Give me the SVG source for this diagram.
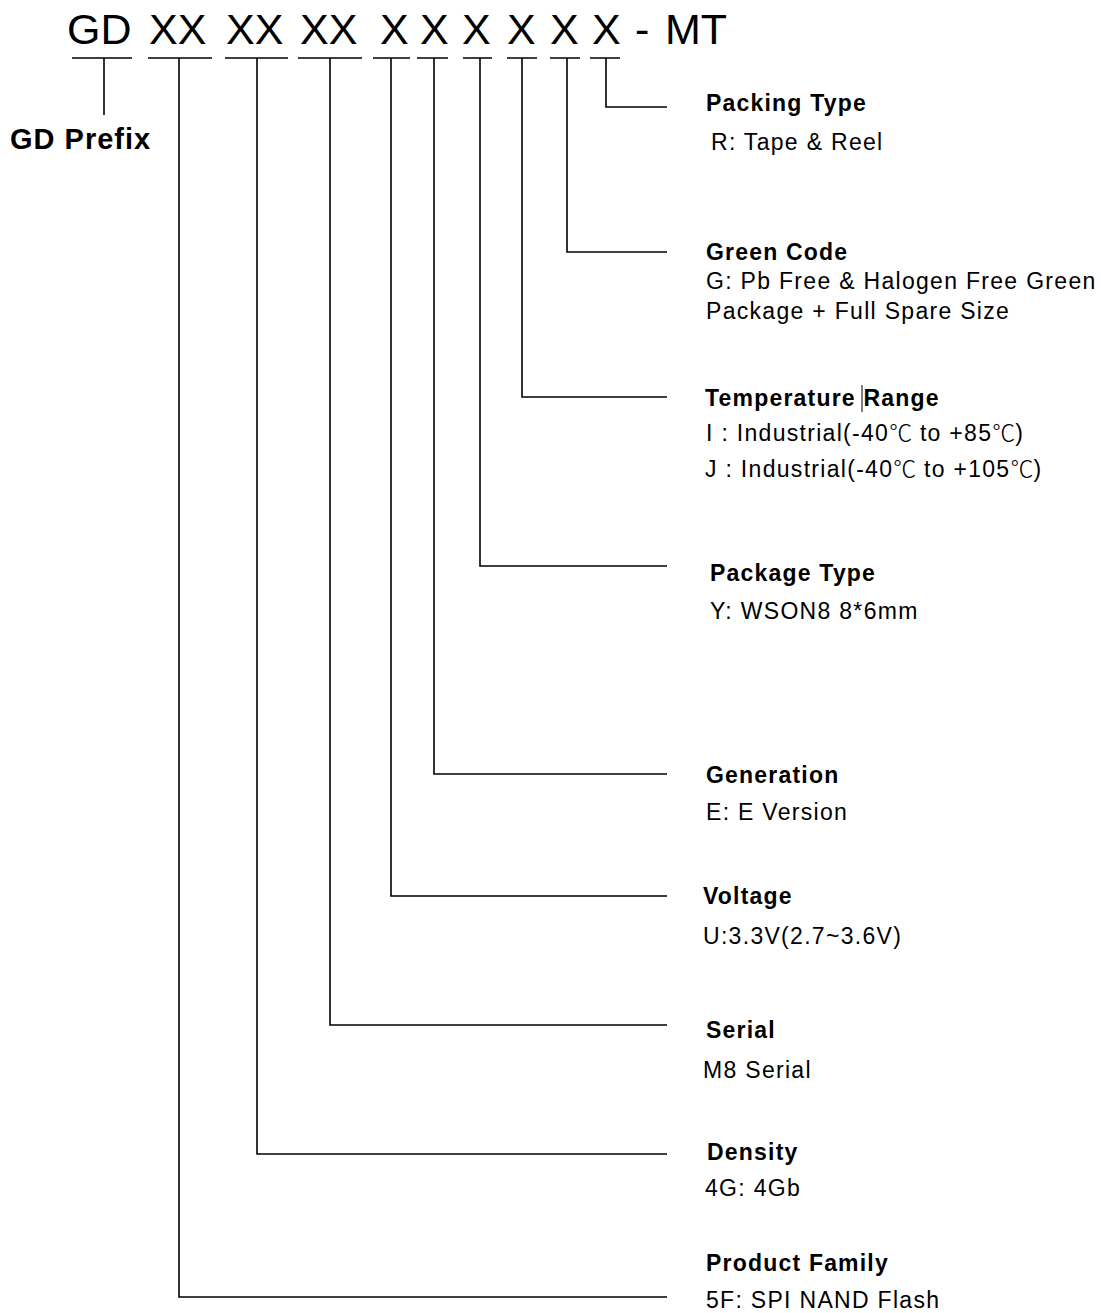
<svg xmlns="http://www.w3.org/2000/svg" width="1101" height="1313" viewBox="0 0 1101 1313">
<style>
.t{font-family:"Liberation Sans",Arial,sans-serif;fill:#000}
.title{font-size:43px}
.h{font-size:23px;font-weight:bold;letter-spacing:1.2px}
.d{font-size:23px;letter-spacing:1.3px}
.pre{font-size:29px;font-weight:bold;letter-spacing:1px}
.c{font-family:"Noto Sans CJK SC","DejaVu Sans",sans-serif;font-weight:300;letter-spacing:0}
.ln{stroke:#000;stroke-width:1.6;fill:none}
</style>
<rect width="1101" height="1313" fill="#fff"/>
<g id="part-number">
<text class="t title" y="44"><tspan x="67">GD</tspan><tspan x="149">XX</tspan><tspan x="226">XX</tspan><tspan x="300">XX</tspan><tspan x="380">X</tspan><tspan x="420">X</tspan><tspan x="462">X</tspan><tspan x="507">X</tspan><tspan x="550">X</tspan><tspan x="592">X</tspan><tspan x="635">-</tspan><tspan x="665">MT</tspan></text>
<path class="ln" d="M72 58H132M148 58H212M225 58H288M298 58H362M373 58H410M417 58H448M463 58H492M507 58H537M550 58H580M590 58H620"/>
</g>
<g id="connectors">
<path class="ln" d="M104 58V115"/>
<path class="ln" d="M606 58V107H667"/>
<path class="ln" d="M567 58V252H667"/>
<path class="ln" d="M522 58V397H667"/>
<path class="ln" d="M480 58V566H667"/>
<path class="ln" d="M434 58V774H667"/>
<path class="ln" d="M391 58V896H667"/>
<path class="ln" d="M330 58V1025H667"/>
<path class="ln" d="M257 58V1154H667"/>
<path class="ln" d="M179 58V1297H667"/>
</g>
<g id="gd-prefix">
<text class="t pre" x="10" y="149">GD Prefix</text>
</g>
<g id="packing-type">
<text class="t h" x="706" y="111">Packing Type</text>
<text class="t d" x="711" y="150">R: Tape &amp; Reel</text>
</g>
<g id="green-code">
<text class="t h" x="706" y="260">Green Code</text>
<text class="t d" x="706" y="289">G: Pb Free &amp; Halogen Free Green</text>
<text class="t d" x="706" y="319">Package + Full Spare Size</text>
</g>
<g id="temperature-range">
<text class="t h" x="705" y="406">Temperature Range</text>
<line x1="862" y1="385" x2="862" y2="412" stroke="#000" stroke-width="1"/>
<text class="t d" x="706" y="441">I : Industrial(-40<tspan class="c">℃</tspan> to +85<tspan class="c">℃</tspan>)</text>
<text class="t d" x="705" y="477">J : Industrial(-40<tspan class="c">℃</tspan> to +105<tspan class="c">℃</tspan>)</text>
</g>
<g id="package-type">
<text class="t h" x="710" y="581">Package Type</text>
<text class="t d" x="710" y="619">Y: WSON8 8*6mm</text>
</g>
<g id="generation">
<text class="t h" x="706" y="783">Generation</text>
<text class="t d" x="706" y="820">E: E Version</text>
</g>
<g id="voltage">
<text class="t h" x="703" y="904">Voltage</text>
<text class="t d" x="703" y="944">U:3.3V(2.7~3.6V)</text>
</g>
<g id="serial">
<text class="t h" x="706" y="1038">Serial</text>
<text class="t d" x="703" y="1078">M8 Serial</text>
</g>
<g id="density">
<text class="t h" x="707" y="1160">Density</text>
<text class="t d" x="705" y="1196">4G: 4Gb</text>
</g>
<g id="product-family">
<text class="t h" x="706" y="1271">Product Family</text>
<text class="t d" x="706" y="1308">5F: SPI NAND Flash</text>
</g>
</svg>
